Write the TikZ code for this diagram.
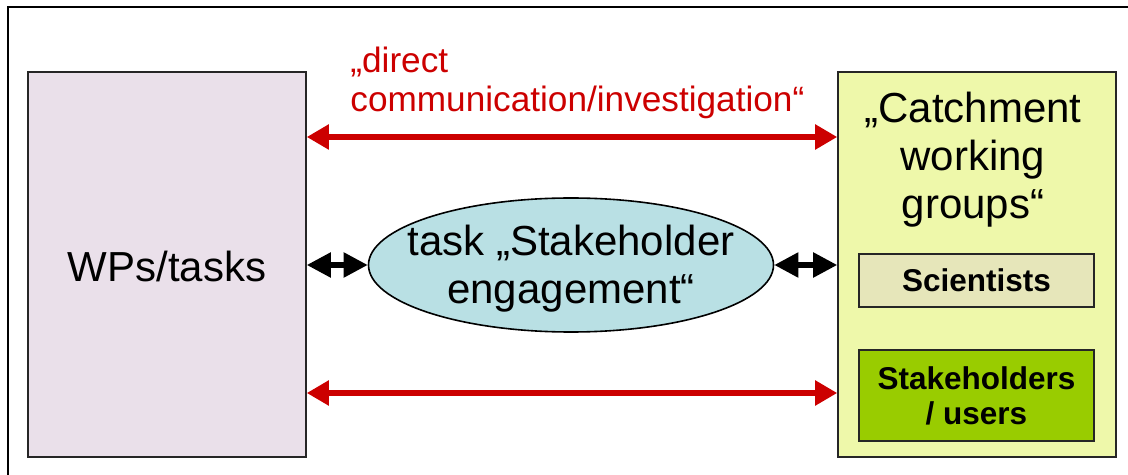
\documentclass[tikz,border=0pt]{standalone}
\usepackage{fontspec}
\setmainfont{Liberation Sans}
\usetikzlibrary{arrows.meta,shapes.geometric}
\definecolor{wpfill}{RGB}{234,224,234}
\definecolor{cwgfill}{RGB}{238,248,170}
\definecolor{scifill}{RGB}{230,230,186}
\definecolor{stkfill}{RGB}{153,204,0}
\definecolor{ellfill}{RGB}{185,224,228}
\definecolor{arrred}{RGB}{204,0,0}
\tikzset{
  box/.style={draw=black!85, line width=0.8pt, inner sep=0pt},
  redarrow/.style={draw=arrred, line width=2.6pt, {Triangle[length=11pt,width=12pt]}-{Triangle[length=11pt,width=12pt]}},
  blkarrow/.style={draw=black, line width=2.6pt, {Triangle[length=12pt,width=12pt]}-{Triangle[length=12pt,width=12pt]}},
  bigtext/.style={font=\fontsize{21}{24}\selectfont, align=center},
  boldtext/.style={font=\fontsize{15.75}{17.5}\selectfont\bfseries, align=center},
}
\begin{document}
\begin{tikzpicture}[x=0.5pt,y=-0.5pt]
\useasboundingbox (0,0) rectangle (1128,475);
\begin{scope}
\clip (0,0) rectangle (1128,475);
\draw[line width=0.9pt] (8,7) rectangle (1140,490);
\end{scope}
% boxes
\node[box, fill=wpfill, minimum width=139pt, minimum height=192.5pt] (L) at (167,264.5) {};
\node[bigtext] (Ltext) at (167,266) {WPs/tasks};
\node[box, fill=cwgfill, minimum width=139pt, minimum height=192.5pt] (R) at (977,264.5) {};
\node[bigtext] (Rtext) at (973,160) {„Catchment\\working\\groups“};
\node[box, fill=scifill, minimum width=117.5pt, minimum height=26.5pt, boldtext] (S) at (976.5,280.5) {Scientists};
\node[box, fill=stkfill, minimum width=117.5pt, minimum height=45.5pt, boldtext] (U) at (976.5,395.5) {Stakeholders\\/ users};
\node[ellipse, draw=black, line width=0.8pt, fill=ellfill, minimum width=202.5pt, minimum height=67pt, inner sep=0pt] (E) at (571,265) {};
\node[bigtext] (Etext) at (571,269) {task „Stakeholder\\engagement“};
% label
\node[anchor=base west, text=arrred, font=\fontsize{17.6}{19.5}\selectfont, align=left, inner sep=0pt] (D) at (350,112) {„direct\\communication/investigation“};
% arrows
\coordinate (t1) at (L.east |- 0,137);
\coordinate (t2) at (R.west |- 0,137);
\draw[redarrow] (t1) -- (t2);
\coordinate (b1) at (L.east |- 0,393);
\coordinate (b2) at (R.west |- 0,393);
\draw[redarrow] (b1) -- (b2);
\draw[blkarrow] (L.east |- E.west) -- (E.west);
\draw[blkarrow] (E.east) -- (R.west |- E.east);
\end{tikzpicture}
\end{document}
